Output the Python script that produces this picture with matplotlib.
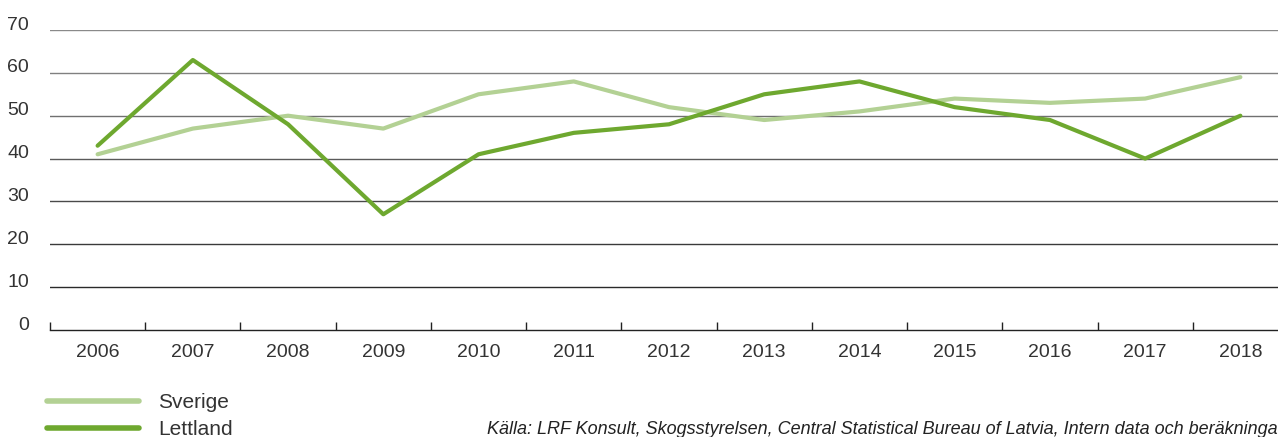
import matplotlib
matplotlib.use("Agg")
import matplotlib.pyplot as plt
import matplotlib.transforms as mtransforms
import numpy as np

years = ["2006", "2007", "2008", "2009", "2010", "2011", "2012", "2013", "2014", "2015", "2016", "2017", "2018"]
sverige = [41, 47, 50, 47, 55, 58, 52, 49, 51, 54, 53, 54, 59]
lettland = [43, 63, 48, 27, 41, 46, 48, 55, 58, 52, 49, 40, 50]
yticks = [0, 10, 20, 30, 40, 50, 60, 70]

plt.rcParams['font.family'] = ['Liberation Sans', 'DejaVu Sans']

W, H = 1278, 437
fig = plt.figure(figsize=(W / 100, H / 100), dpi=100)
ax = fig.add_axes([50 / W, 1 - 330 / H, 1238 / W, 300 / H])

x = np.arange(len(years))
c_sv = "#b3d194"
c_lv = "#6ea82f"
ax.plot(x, sverige, color=c_sv, lw=3.0, solid_capstyle='round', solid_joinstyle='round', label="Sverige", zorder=3)
ax.plot(x, lettland, color=c_lv, lw=3.0, solid_capstyle='round', solid_joinstyle='round', label="Lettland", zorder=4)

ax.set_xlim(-0.5, len(years) - 0.5)
ax.set_ylim(0, 70)

grid_colors = {10: "#2a2a2a", 20: "#3a3a3a", 30: "#4a4a4a", 40: "#5a5a5a", 50: "#707070", 60: "#808080", 70: "#8a8a8a"}
for v in yticks[1:]:
    ax.axhline(v, color=grid_colors[v], lw=1.0, zorder=1)

for s in ["top", "right", "left"]:
    ax.spines[s].set_visible(False)
ax.spines["bottom"].set_color("#222222")
ax.spines["bottom"].set_linewidth(1.0)

ax.set_yticks(yticks)
ax.set_yticklabels([str(v) for v in yticks])
ax.tick_params(axis='y', length=0, pad=15, labelsize=14, labelcolor="#333333")
offset = mtransforms.ScaledTranslation(0, 5 / 100, fig.dpi_scale_trans)
for lab in ax.get_yticklabels():
    lab.set_va('center')
    lab.set_transform(lab.get_transform() + offset)

ax.set_xticks(x)
ax.set_xticklabels(years)
ax.tick_params(axis='x', which='major', length=0, pad=10, labelsize=14, labelcolor="#333333")
ax.set_xticks(np.arange(len(years) + 1) - 0.5, minor=True)
ax.tick_params(axis='x', which='minor', direction='in', length=6, width=1.0, color="#222222")

leg = fig.legend(loc='upper left', bbox_to_anchor=(47 / W, 1 - 393 / H), frameon=False,
                 fontsize=15, handlelength=4.4, handletextpad=0.95, labelspacing=0.4,
                 borderaxespad=0, borderpad=0)
for line in leg.get_lines():
    line.set_linewidth(4.0)
for t in leg.get_texts():
    t.set_color("#333333")

fig.text(487 / W, 1 - 430 / H, "Källa: LRF Konsult, Skogsstyrelsen, Central Statistical Bureau of Latvia, Intern data och beräkningar",
         fontsize=13, style='italic', color="#222222", va='center', ha='left')

fig.savefig("out.png", dpi=100)
